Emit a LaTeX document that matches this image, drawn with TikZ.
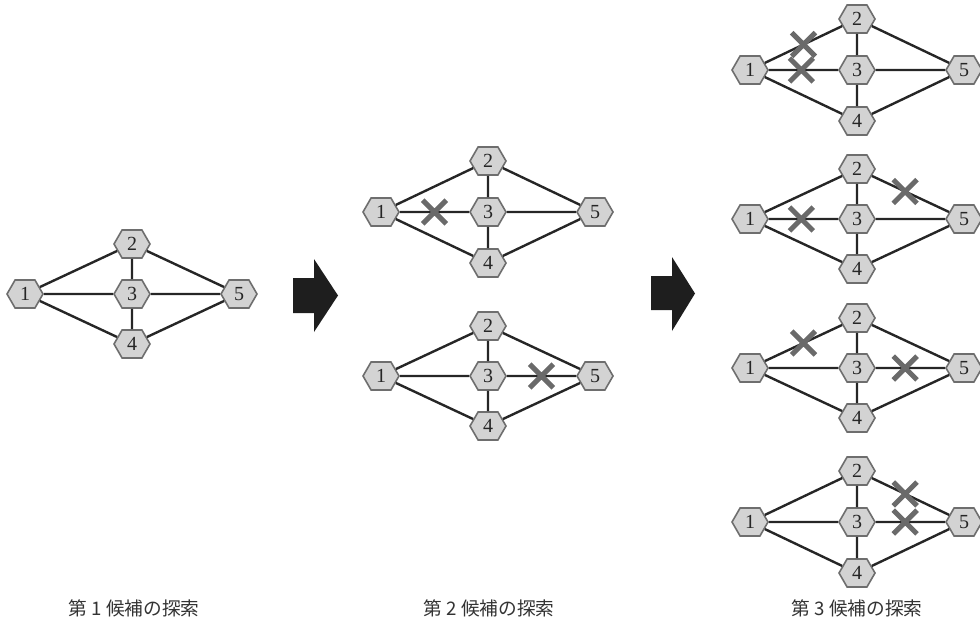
\documentclass[tikz,border=0pt]{standalone}
\usepackage{fontspec}
\setmainfont{Liberation Serif}
\newfontfamily\cjk{Noto Sans CJK JP}
\usetikzlibrary{shapes.symbols,shapes.misc,calc}
\definecolor{hexfill}{HTML}{D3D3D3}
\definecolor{hexborder}{HTML}{6E6E6E}
\definecolor{edgecol}{HTML}{262626}
\definecolor{xcol}{HTML}{6A6A6A}
\definecolor{textcol}{HTML}{333333}
\definecolor{arrowcol}{HTML}{1E1E1E}
\tikzset{
  hexnode/.style={signal, signal to=east and west, signal pointer angle=120,
    draw=hexborder, fill=hexfill, line width=1.2pt,
    minimum width=27pt, minimum height=21pt, inner sep=0pt,
    font=\fontsize{15}{15}\selectfont, text=black!85},
  edgeline/.style={draw=edgecol, line width=1.8pt},
  xmark/.style={cross out, draw=xcol, line width=3.8pt, minimum size=14pt, inner sep=0pt},
  caption/.style={font=\cjk\fontsize{14}{14}\selectfont, text=textcol},
  bigarrow/.style={fill=arrowcol}
}
% #1 prefix, #2 x of node 1, #3 y of node 1, #4 vertical spacing
\newcommand\netgraph[4]{%
  \begin{scope}[shift={(#2,#3)}]
    \node[hexnode] (#1a) at (0,0) {1};
    \node[hexnode] (#1b) at (107,-#4) {2};
    \node[hexnode] (#1c) at (107,0) {3};
    \node[hexnode] (#1d) at (107,#4) {4};
    \node[hexnode] (#1e) at (214,0) {5};
  \end{scope}
  \path[edgeline] (#1a) -- (#1b) (#1a) -- (#1c) (#1a) -- (#1d)
    (#1b) -- (#1c) (#1c) -- (#1d)
    (#1b) -- (#1e) (#1c) -- (#1e) (#1d) -- (#1e);
}
\begin{document}
\begin{tikzpicture}[x=0.75pt,y=-0.75pt]
\useasboundingbox (0,0) rectangle (980,620);

\netgraph{ga}{25}{294}{50}
\netgraph{gb}{381}{212}{51}
\netgraph{gc}{381}{376}{50}
\netgraph{gd}{750}{70}{51}
\netgraph{ge}{750}{219}{50}
\netgraph{gf}{750}{368}{50}
\netgraph{gg}{750}{522}{51}

% crossed-out edges
\node[xmark] (xb1) at ($(gba)!0.5!(gbc)$) {};
\node[xmark] (xc1) at ($(gcc)!0.5!(gce)$) {};
\node[xmark] (xd1) at ($(gda)!0.5!(gdb)$) {};
\node[xmark] (xd2) at ($(gda)!0.48!(gdc)$) {};
\node[xmark] (xe1) at ($(geb)!0.45!(gee)$) {};
\node[xmark] (xe2) at ($(gea)!0.48!(gec)$) {};
\node[xmark] (xf1) at ($(gfa)!0.5!(gfb)$) {};
\node[xmark] (xf2) at ($(gfc)!0.45!(gfe)$) {};
\node[xmark] (xg1) at ($(ggb)!0.45!(gge)$) {};
\node[xmark] (xg2) at ($(ggc)!0.45!(gge)$) {};

% block arrows
\fill[bigarrow] (293,278) -- (314,278) -- (314,259) -- (338,295.5) -- (314,332) -- (314,313) -- (293,313) -- cycle;
\fill[bigarrow] (651,276) -- (672,276) -- (672,257) -- (695,293.5) -- (672,331) -- (672,310) -- (651,310) -- cycle;

% captions
\node[caption] (cap1) at (134,608) {第 1 候補の探索};
\node[caption] (cap2) at (489,608) {第 2 候補の探索};
\node[caption] (cap3) at (857,608) {第 3 候補の探索};
\end{tikzpicture}
\end{document}
